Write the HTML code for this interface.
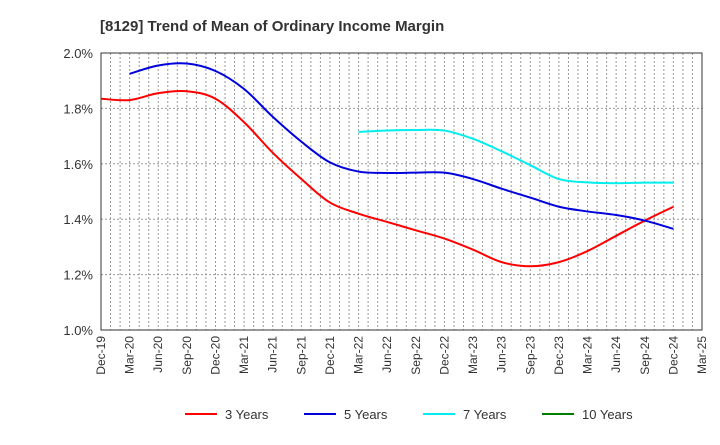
<!DOCTYPE html>
<html><head><meta charset="utf-8"><style>
body{margin:0;background:#fff;font-family:"Liberation Sans",sans-serif;}
svg text{font-family:"Liberation Sans",sans-serif;}
</style></head><body>
<svg id="chart" width="720" height="440" xmlns="http://www.w3.org/2000/svg">
<text x="100" y="31" font-size="15" font-weight="bold" fill="#333">[8129]  Trend of Mean of Ordinary Income Margin</text>
<g id="grid"></g><g id="axes"></g><g id="series"></g><g id="legend"></g>
</svg>
<script>
const xLabels=["Dec-19","Mar-20","Jun-20","Sep-20","Dec-20","Mar-21","Jun-21","Sep-21","Dec-21","Mar-22","Jun-22","Sep-22","Dec-22","Mar-23","Jun-23","Sep-23","Dec-23","Mar-24","Jun-24","Sep-24","Dec-24","Mar-25"];
const yTicks=[1.0,1.2,1.4,1.6,1.8,2.0];
const s3=[1.835,1.83,1.855,1.862,1.835,1.75,1.64,1.545,1.46,1.42,1.39,1.36,1.33,1.29,1.245,1.23,1.245,1.285,1.34,1.395,1.445];
const s5=[null,1.925,1.955,1.962,1.935,1.87,1.77,1.68,1.605,1.572,1.567,1.568,1.568,1.545,1.51,1.478,1.445,1.428,1.415,1.395,1.365];
const s7=[null,null,null,null,null,null,null,null,null,1.715,1.72,1.722,1.72,1.69,1.645,1.595,1.545,1.533,1.53,1.532,1.532];
const s10=[];
const NS="http://www.w3.org/2000/svg";
const L=101,R=702,T=53,B=330;
const xq=i=>L+(R-L)*(i*3)/63;
const xm=m=>L+(R-L)*m/63;
const y=v=>B-(v-1.0)/(2.0-1.0)*(B-T);
function mk(tag,attrs,parent){const e=document.createElementNS(NS,tag);for(const k in attrs)e.setAttribute(k,attrs[k]);parent.appendChild(e);return e;}
const grid=document.getElementById('grid'),axes=document.getElementById('axes'),ser=document.getElementById('series'),leg=document.getElementById('legend');
for(let m=1;m<63;m++){const l=mk('line',{x1:xm(m),x2:xm(m),y1:T,y2:B,stroke:'#999','stroke-dasharray':'2,2','stroke-width':1},grid);

}
yTicks.forEach(v=>{if(v>1.0&&v<2.0){const l=mk('line',{x1:L,x2:R,y1:y(v),y2:y(v),stroke:'#999','stroke-dasharray':'2,2','stroke-width':1},grid);

}
const t=mk('text',{x:L-8,y:y(v)+5,'text-anchor':'end','font-size':13,fill:'#333'},axes);t.textContent=v.toFixed(1)+'%';

});
const fr=mk('rect',{x:L,y:T,width:R-L,height:B-T,fill:'none',stroke:'#333','stroke-width':1},axes);


xLabels.forEach((s,i)=>{const x=xq(i);const t=mk('text',{x:x+4,y:B+6,'text-anchor':'end','font-size':12,fill:'#333',transform:`rotate(-90 ${x+4} ${B+6})`},axes);t.textContent=s;

});
function path(arr){const pts=[];arr.forEach((v,i)=>{if(v!=null)pts.push([xq(i),y(v)]);});if(pts.length<2)return '';
let d=`M${pts[0][0]},${pts[0][1]}`;for(let i=0;i<pts.length-1;i++){const p0=pts[i-1]||pts[i],p1=pts[i],p2=pts[i+1],p3=pts[i+2]||p2;
const c1=[p1[0]+(p2[0]-p0[0])/6,p1[1]+(p2[1]-p0[1])/6],c2=[p2[0]-(p3[0]-p1[0])/6,p2[1]-(p3[1]-p1[1])/6];
d+=`C${c1[0]},${c1[1]} ${c2[0]},${c2[1]} ${p2[0]},${p2[1]}`;}return d;}
const series=[[s3,'#ff0000','3 Years','line-3-years'],[s5,'#0000dd','5 Years','line-5-years'],[s7,'#00eeee','7 Years','line-7-years'],[s10,'#008000','10 Years','line-10-years']];
series.forEach(([a,c,n,id],k)=>{const d=path(a);if(d){const p=mk('path',{d:d,fill:'none',stroke:c,'stroke-width':2},ser);

}
const lx=[185,304,423,542][k];const g=mk('g',{},leg);


mk('line',{x1:lx,x2:lx+32,y1:414,y2:414,stroke:c,'stroke-width':2},g);
const t=mk('text',{x:lx+40,y:419,'font-size':13,fill:'#333'},g);t.textContent=n;});
</script>
</body></html>
